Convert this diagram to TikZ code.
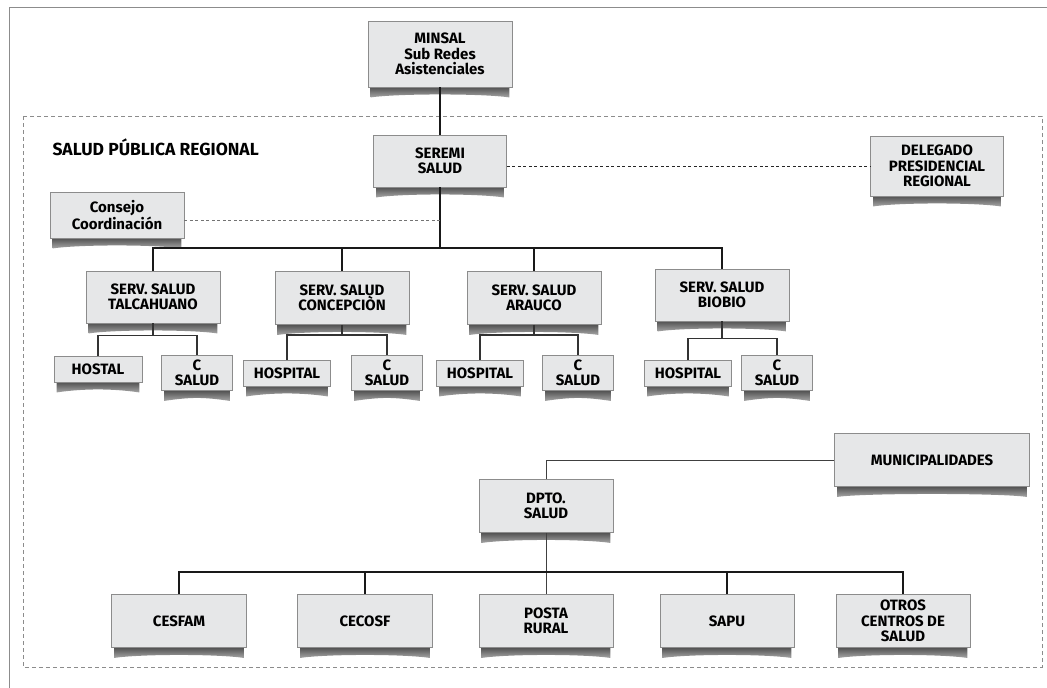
\documentclass[tikz,border=0pt]{standalone}
\usepackage{fontspec}
\setsansfont{Fira Sans}
\usetikzlibrary{positioning,backgrounds}
\definecolor{boxfill}{HTML}{E6E7E8}
\definecolor{boxline}{HTML}{8C8C8C}
\begin{document}
\begin{tikzpicture}[x=1pt, y=-1pt]
		\tikzstyle{Box}		= [rectangle, draw=boxline, fill=boxfill, line width=0.9pt, inner sep=0pt, align=center, font=\sffamily\bfseries\fontsize{15}{15.5}\selectfont, minimum width=134pt, minimum height=53pt]
		\tikzstyle{Small}	= [minimum width=87pt, minimum height=26pt]
		\tikzstyle{CS}		= [minimum width=71pt, minimum height=35pt]
		\tikzstyle{Main}	= [line width=1.8pt, black!90]
		\tikzstyle{Sub}		= [line width=1.1pt, black!80]
		\tikzstyle{Thin}	= [line width=0.9pt, black!75]
		\tikzstyle{Dots}	= [dash pattern=on 3pt off 2.5pt, line width=0.9pt, black!85]
		\tikzstyle{Light}	= [dash pattern=on 3pt off 2.5pt, line width=0.7pt, black!55]
		\tikzstyle{Frame}	= [dash pattern=on 4pt off 3pt, line width=0.8pt, black!45]
		\tikzstyle{Shadow}	= [top color=black!70, bottom color=black!35]

		\useasboundingbox (0,0) rectangle (1047,688);

		\node (title) at (49,147) [anchor=west, font=\sffamily\bfseries\fontsize{17.5}{19}\selectfont] {SALUD PÚBLICA REGIONAL};

		\node (minsal) at (440,54) [Box, minimum width=144pt, minimum height=66pt] {MINSAL\\Sub Redes\\Asistenciales};
		\node (seremi) at (440,161) [Box, minimum width=133pt, minimum height=52pt] {SEREMI\\SALUD};
		\node (delegado) at (937,166) [Box, minimum width=133pt, minimum height=60pt] {DELEGADO\\PRESIDENCIAL\\REGIONAL};
		\node (consejo) at (117,215) [Box, minimum height=46pt] {Consejo\\Coordinación};

		\node (ssTal) at (153,297) [Box, minimum height=52pt] {SERV. SALUD\\TALCAHUANO};
		\node (ssCon) at (342,298) [Box] {SERV. SALUD\\CONCEPCIÒN};
		\node (ssAra) at (534,298) [Box] {SERV. SALUD\\ARAUCO};
		\node (ssBio) at (722,295) [Box, minimum height=52pt] {SERV. SALUD\\BIOBIO};

		\node (h1) at (98,369) [Box, Small, minimum width=88pt] {HOSTAL};
		\node (c1) at (197,373) [Box, CS] {C\\SALUD};
		\node (h2) at (287,373) [Box, Small] {HOSPITAL};
		\node (c2) at (387,373) [Box, CS] {C\\SALUD};
		\node (h3) at (480,373) [Box, Small] {HOSPITAL};
		\node (c3) at (578,373) [Box, CS] {C\\SALUD};
		\node (h4) at (688,373) [Box, Small] {HOSPITAL};
		\node (c4) at (777,373) [Box, CS] {C\\SALUD};

		\node (muni) at (932,460) [Box, minimum width=195pt] {MUNICIPALIDADES};
		\node (dpto) at (546,506) [Box] {DPTO.\\SALUD};

		\node (cesfam) at (179,621) [Box, minimum width=135pt] {CESFAM};
		\node (cecosf) at (365,621) [Box, minimum width=135pt] {CECOSF};
		\node (posta) at (546,621) [Box] {POSTA\\RURAL};
		\node (sapu) at (727,621) [Box] {SAPU};
		\node (otros) at (903,621) [Box] {OTROS\\CENTROS DE\\SALUD};

		\coordinate (cc) at (440,220);
		\coordinate (bar) at (440,248);
		\coordinate (bar2) at (546,572);

		\draw [-] (minsal) to (seremi) [Main];
		\draw [-] (seremi) to (bar) [Main];
		\draw [-] (bar) -| (ssTal.north) [Main];
		\draw [-] (bar) -| (ssCon.north) [Main];
		\draw [-] (bar) -| (ssAra.north) [Main];
		\draw [-] (bar) -| (ssBio.north) [Main];

		\draw [-] (seremi.east |- delegado.west) to (delegado.west) [Dots];
		\draw [-] (consejo.east |- cc) to (cc) [Light];

		\draw [-] (ssTal.south) -- ++(0,12) coordinate (t1) -| (h1.north) [Sub];
		\draw [-] (t1) -| (c1.north) [Sub];
		\draw [-] (ssCon.south) -- ++(0,10) coordinate (t2) -| (h2.north) [Sub];
		\draw [-] (t2) -| (c2.north) [Sub];
		\draw [-] (ssAra.south) -- ++(0,10) coordinate (t3) -| (h3.north) [Sub];
		\draw [-] (t3) -| (c3.north) [Sub];
		\draw [-] (ssBio.south) -- ++(0,17) coordinate (t4) -| (h4.north) [Sub];
		\draw [-] (t4) -| (c4.north) [Sub];

		\draw [-] (muni.west) -| (dpto.north) [Thin];
		\draw [-] (dpto) to (posta) [Thin];
		\draw [-] (cesfam.north) |- (bar2) -| (otros.north) [Main];
		\draw [-] (cecosf.north) to (cecosf.north |- bar2) [Main];
		\draw [-] (sapu.north) to (sapu.north |- bar2) [Main];

		\begin{scope}[on background layer]
			\draw [Frame] (23,116) rectangle (1042,667);
			\draw [black!45, line width=0.8pt] (9,688) -- (9,7) -- (1047,7);
			\foreach \n in {minsal,seremi,delegado,consejo,ssTal,ssCon,ssAra,ssBio,h1,c1,h2,c2,h3,c3,h4,c4,muni,dpto,cesfam,cecosf,posta,sapu,otros}
				\shade [Shadow] ([xshift=3pt,yshift=1pt]\n.south west) -- ([xshift=-3pt,yshift=1pt]\n.south east) -- ([xshift=-3pt,yshift=-10pt]\n.south east) .. controls ([xshift=-30pt,yshift=-6pt]\n.south east) and ([xshift=30pt,yshift=-6pt]\n.south west) .. ([xshift=3pt,yshift=-10pt]\n.south west) -- cycle;
		\end{scope}
\end{tikzpicture}
\end{document}
